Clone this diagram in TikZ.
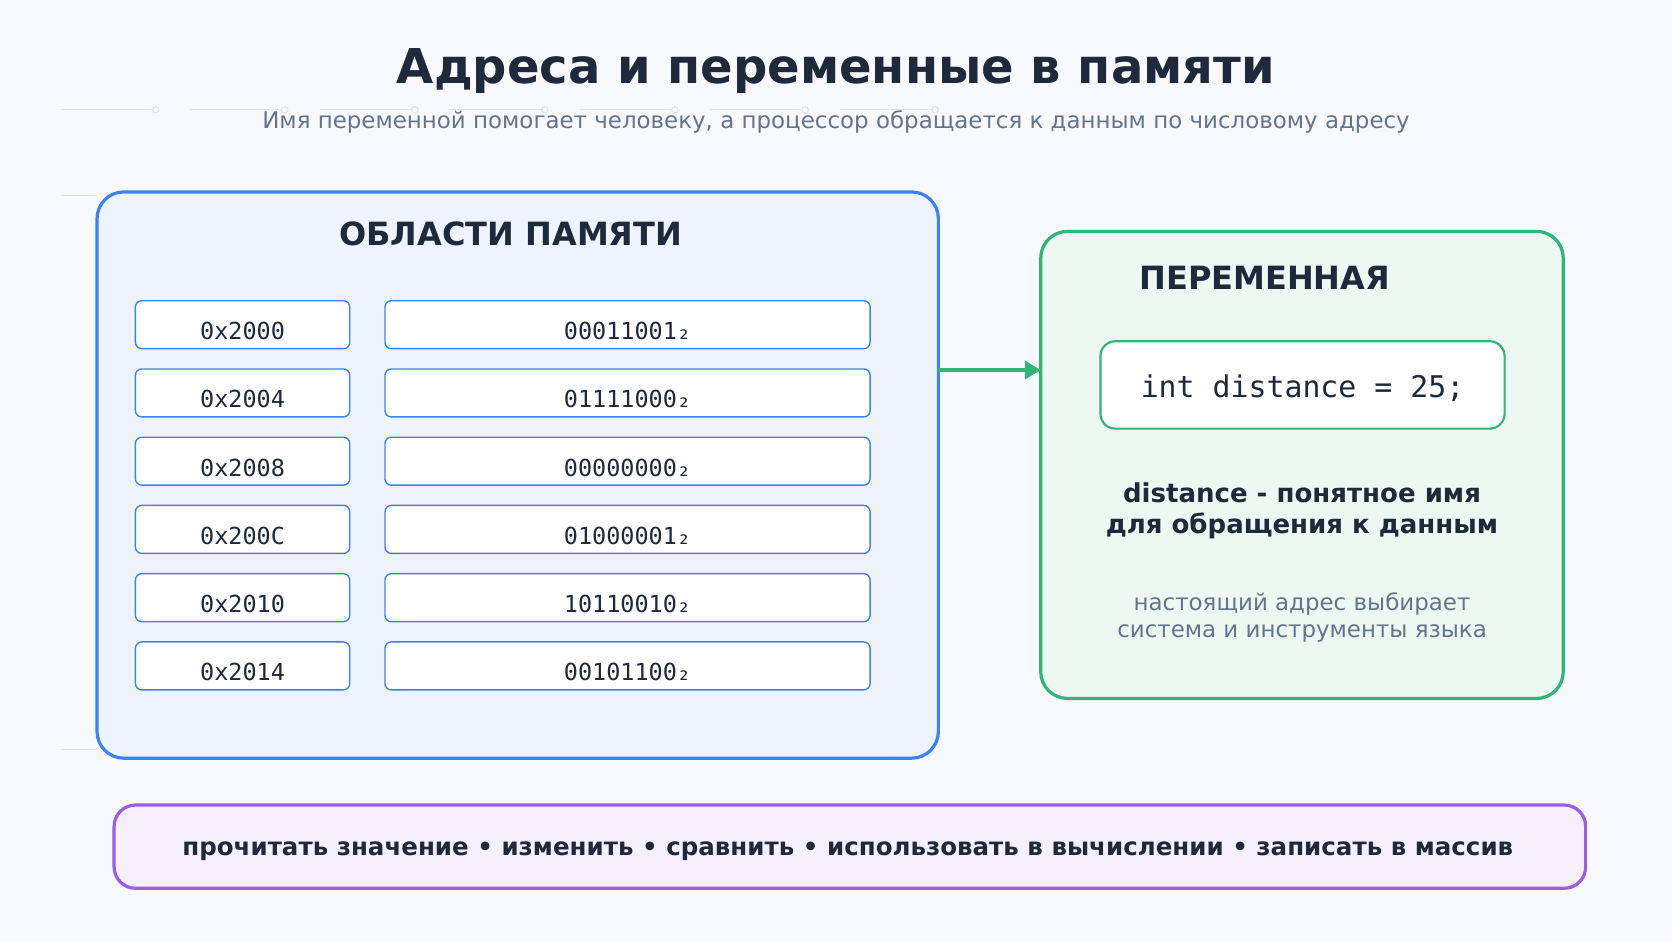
\documentclass[tikz,border=0pt]{standalone}
\usepackage{fontspec}
\setmainfont{DejaVu Sans}
\setmonofont{DejaVu Sans Mono}
\usetikzlibrary{positioning,arrows.meta}

\definecolor{bgpage}{HTML}{F7F9FC}
\definecolor{ink}{HTML}{1E293B}
\definecolor{muted}{HTML}{64748B}
\definecolor{memblue}{HTML}{3B82F6}
\definecolor{memfill}{HTML}{EEF4FD}
\definecolor{vargreen}{HTML}{2FB47A}
\definecolor{varfill}{HTML}{ECF8F1}
\definecolor{oppurple}{HTML}{9B5DE5}
\definecolor{opfill}{HTML}{F6F0FD}
\definecolor{deco}{HTML}{DCE4F2}

\newcommand{\fs}[1]{\fontsize{#1pt}{#1pt}\selectfont}

\begin{document}
\begin{tikzpicture}[x=1pt,y=-1pt,
  panel/.style={draw,line width=3pt,rounded corners=25pt},
  cell/.style={draw=memblue,line width=1.3pt,fill=white,rounded corners=6pt,
    minimum height=45pt,inner sep=0pt},
  celltext/.style={font=\ttfamily\fs{22},text=ink},
  heading/.style={font=\bfseries\fs{30},text=ink},
  decoline/.style={draw=deco,line width=1pt}]

\fill[bgpage] (0,0) rectangle (1568,882);
\useasboundingbox (0,0) rectangle (1568,882);

% faint guide lines
\foreach \x in {57,178,300,422,544,666,788} {
  \draw[decoline] (\x,103) -- (\x+89,103);
  \draw[decoline,fill=bgpage] (\x+89,103) circle (3pt);
}
\draw[decoline] (57,183) -- (91,183);
\draw[decoline] (57,703) -- (91,703);

\node[font=\bfseries\fs{45},text=ink] (title) at (784,67) {Адреса и переменные в памяти};
\node[font=\fs{21.5},text=muted] (subtitle) at (784,114)
  {Имя переменной помогает человеку, а процессор обращается к данным по числовому адресу};

% memory
\draw[panel,draw=memblue,fill=memfill] (91,180) rectangle (880,711);
\coordinate (memright) at (880,347);
\node[heading] (memtitle) at (479,219) {ОБЛАСТИ ПАМЯТИ};

\foreach \i/\addr/\val in {0/0x2000/00011001,1/0x2004/01111000,2/0x2008/00000000,
  3/0x200C/01000001,4/0x2010/10110010,5/0x2014/00101100} {
  \node[cell,minimum width=201pt] (addr\i) at (227.5,304.5+64*\i) {};
  \node[cell,minimum width=455pt] (val\i) at (588.5,304.5+64*\i) {};
  \node[celltext] (addrtext\i) at ([yshift=-6pt]addr\i.center) {\addr};
  \node[celltext] (valtext\i) at ([yshift=-6pt]val\i.center) {\val₂};
}

% variable
\draw[panel,draw=vargreen,fill=varfill] (976,217) rectangle (1466,655);
\coordinate (varleft) at (976,347);
\node[heading] (vartitle) at (1186,261) {ПЕРЕМЕННАЯ};
\node[draw=vargreen,line width=2pt,fill=white,rounded corners=14pt,
  minimum width=379pt,minimum height=82pt] (code) at (1221.5,361) {};
\node[font=\ttfamily\fs{28},text=ink] (codetext) at ([yshift=-3pt]code.center) {int distance = 25;};
\node[font=\bfseries\fs{24.4},text=ink,align=center] (varname) at (1221,479)
  {distance - понятное имя\\[5pt]для обращения к данным};
\node[font=\fs{21.5},text=muted,align=center] (varnote) at (1221,579)
  {настоящий адрес выбирает\\[4pt]система и инструменты языка};

\draw[vargreen,line width=4pt,-{Triangle[length=15pt,width=17pt]}] (memright) -- (varleft);

% operations
\draw[panel,draw=oppurple,fill=opfill,rounded corners=20pt] (107,755) rectangle (1487,833);
\node[font=\bfseries\fs{23},text=ink] (ops) at (795,798)
  {прочитать значение • изменить • сравнить • использовать в вычислении • записать в массив};
\end{tikzpicture}
\end{document}
